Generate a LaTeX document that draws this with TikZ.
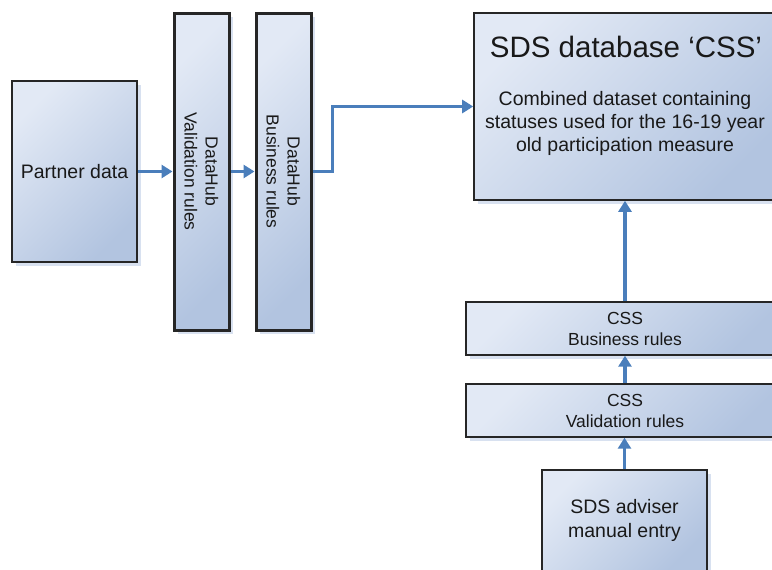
\documentclass[tikz,border=0pt]{standalone}
\usepackage{fontspec}
\setmainfont{Liberation Sans}
\usepackage{tikz}
\usepackage{xcolor}
\usetikzlibrary{arrows.meta,shadows}
\definecolor{box-light}{RGB}{226,233,245}
\definecolor{box-mid}{RGB}{196,210,232}
\definecolor{box-dark}{RGB}{178,196,224}
\definecolor{box-shadow}{RGB}{216,225,240}
\definecolor{flow-blue}{RGB}{74,126,187}
\tikzset{
    flow-box/.style = {draw=black!85, line width=1.6pt, rectangle, inner sep=0pt,
        top color=box-light, middle color=box-mid, bottom color=box-dark, shading angle=45,
        drop shadow={shadow xshift=4pt, shadow yshift=-4pt, fill=box-shadow, opacity=1}},
    flow-bar/.style = {flow-box, line width=3pt},
    flow-text/.style = {align=center, text=black!90, font=\fontsize{19.5}{23.4}\selectfont},
    flow-small/.style = {align=center, text=black!90, font=\fontsize{17.5}{21}\selectfont},
    flow-arrow/.style = {draw=flow-blue, line width=3.5pt, -{Triangle[length=11pt,width=13pt]}},
}

\begin{document}
\begin{tikzpicture}[x=1pt,y=-1pt]
\clip (0,0) rectangle (772,570);
% left hand side
\node [flow-box, minimum width=125pt, minimum height=181pt] (partner) at (74.5,171.5) {};
\node [flow-text] (partnertext) at (partner.center) {Partner data};
\node [flow-bar, minimum width=55pt, minimum height=317pt] (dhval) at (201.5,171.5) {};
\node [flow-small, rotate=-90] (dhvaltext) at (dhval.center) {DataHub\\Validation rules};
\node [flow-bar, minimum width=55pt, minimum height=317pt] (dhbiz) at (283.5,171.5) {};
\node [flow-small, rotate=-90] (dhbiztext) at (dhbiz.center) {DataHub\\Business rules};
% right hand side
\node [flow-box, minimum width=304pt, minimum height=187pt] (db) at (626,106.5) {};
\node [flow-text, font=\fontsize{29.5}{35}\selectfont] (dbtitle) at (626,47) {SDS database ‘CSS’};
\node [flow-text] (dbtext) at (625,123.5) {Combined dataset containing\\statuses used for the 16-19 year\\old participation measure};
\node [flow-box, minimum width=318pt, minimum height=53pt, line width=1.4pt] (cssbiz) at (625,328.5) {};
\node [flow-small] (cssbiztext) at (cssbiz.center) {CSS\\Business rules};
\node [flow-box, minimum width=318pt, minimum height=53pt, line width=1.4pt] (cssval) at (625,410.5) {};
\node [flow-small] (cssvaltext) at (cssval.center) {CSS\\Validation rules};
\node [flow-box, minimum width=165pt, minimum height=101pt] (adviser) at (624.5,520.5) {};
\node [flow-text] (advisertext) at (adviser.center) {SDS adviser\\manual entry};
% connectors
\draw [flow-arrow] (partner.east) -- (dhval.west);
\draw [flow-arrow] (dhval.east) -- (dhbiz.west);
\draw [flow-arrow] (dhbiz.east) -- ++(20,0) |- (db.west);
\draw [flow-arrow] (adviser.north) -- (adviser.north |- cssval.south);
\draw [flow-arrow] (cssval.north) -- (cssval.north |- cssbiz.south);
\draw [flow-arrow] (cssbiz.north) -- (cssbiz.north |- db.south);
\end{tikzpicture}
\end{document}
